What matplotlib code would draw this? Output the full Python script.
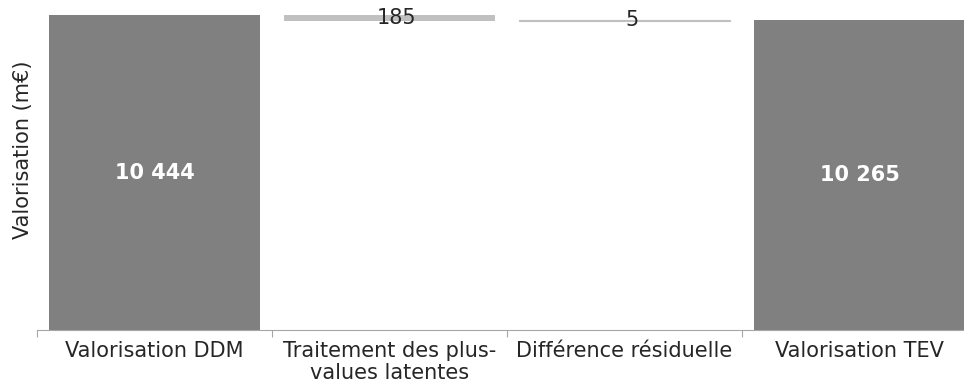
import matplotlib
matplotlib.use("Agg")
import matplotlib.pyplot as plt

# Waterfall data (m€)
categories = ["Valorisation DDM", "Traitement des plus-\nvalues latentes",
              "Différence résiduelle", "Valorisation TEV"]
start_value = 10444
steps = [185, 5]
end_value = 10265

step_bottoms = [start_value - steps[0], end_value - steps[1]]

fig = plt.figure(figsize=(9.64, 3.85), dpi=100)
ax = fig.add_axes([37 / 964, 55 / 385, 940 / 964, 330 / 385])

dark = "#808080"
light = "#c0c0c0"
text_col = "#262626"
fs = 15
width = 0.9

ax.bar(0, start_value, width=width, color=dark)
ax.bar(3, end_value, width=width, color=dark)
ax.bar(1, steps[0], bottom=step_bottoms[0], width=width, color=light)
ax.bar(2, steps[1], bottom=step_bottoms[1], width=width, color=light,
       edgecolor=light, linewidth=0.8)

ax.text(0, start_value / 2, f"{start_value:,}".replace(",", " "),
        ha="center", va="center", color="white", fontsize=15, fontweight="bold")
ax.text(3, end_value / 2, f"{end_value:,}".replace(",", " "),
        ha="center", va="center", color="white", fontsize=15, fontweight="bold")
ax.text(1.03, step_bottoms[0] + steps[0] / 2, str(steps[0]),
        ha="center", va="center", color=text_col, fontsize=fs)
ax.text(2.03, step_bottoms[1] + steps[1] / 2, str(steps[1]),
        ha="center", va="center", color=text_col, fontsize=fs)

ax.set_xlim(-0.5, 3.5)
ax.set_ylim(0, start_value * 330 / 315)

for s in ["top", "right", "left"]:
    ax.spines[s].set_visible(False)
ax.spines["bottom"].set_color("#a6a6a6")
ax.set_yticks([])

ax.set_xticks([-0.5, 0.5, 1.5, 2.5], minor=False)
ax.set_xticklabels([])
ax.tick_params(axis="x", which="major", length=5, color="#a6a6a6", direction="out")
ax.set_xticks(range(4), minor=True)
ax.set_xticklabels(categories, minor=True, fontsize=fs, color=text_col,
                   linespacing=1.1)
ax.tick_params(axis="x", which="minor", length=0, pad=8)

ax.set_ylabel("Valorisation (m€)", fontsize=fs, color=text_col)
ax.yaxis.set_label_coords(-4 / 940, 180 / 330)

fig.savefig("out.png", dpi=100)
